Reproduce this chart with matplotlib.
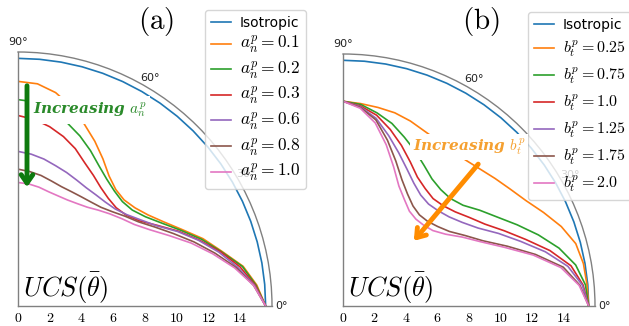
import matplotlib

matplotlib.use("Agg")

import matplotlib.pyplot as plt
import numpy as np

plt.rcParams["mathtext.fontset"] = "cm"

# angles (degrees) at which UCS was read
theta_deg = [0, 5, 10, 15, 20, 25, 30, 35, 40, 45, 50, 55, 60, 65, 70, 75, 80, 85, 90]
iso_r = 15.6

# panel (a): a_n^p
a_labels = [r"$a_n^p = 0.1$", r"$a_n^p = 0.2$", r"$a_n^p = 0.3$",
            r"$a_n^p = 0.6$", r"$a_n^p = 0.8$", r"$a_n^p = 1.0$"]
a_01 = [15.6, 15.1, 14.4, 13.3, 12.4, 11.4, 10.6, 10.0, 9.62, 9.45, 9.58, 10.0, 10.7, 11.45, 12.2, 13.0, 13.65, 14.05, 14.15]
a_02 = [15.6, 15.05, 14.35, 13.25, 12.3, 11.3, 10.45, 9.8, 9.4, 9.3, 9.45, 9.75, 10.2, 10.8, 11.4, 11.95, 12.55, 12.9, 13.0]
a_03 = [15.6, 15.0, 14.2, 13.2, 12.15, 11.15, 10.15, 9.35, 8.9, 8.75, 8.85, 9.1, 9.5, 9.95, 10.55, 11.05, 11.47, 11.8, 12.0]
a_06 = [15.6, 14.95, 14.05, 13.1, 12.1, 11.1, 10.1, 9.45, 8.95, 8.65, 8.55, 8.55, 8.6, 8.75, 8.95, 9.15, 9.4, 9.6, 9.74]
a_08 = [15.6, 14.9, 13.95, 12.85, 11.8, 10.8, 9.95, 9.25, 8.8, 8.4, 8.12, 8.0, 7.95, 7.95, 8.0, 8.15, 8.35, 8.5, 8.62]
a_10 = [15.6, 14.9, 13.85, 12.7, 11.6, 10.5, 9.6, 8.95, 8.55, 8.2, 7.88, 7.6, 7.45, 7.37, 7.38, 7.45, 7.6, 7.72, 7.78]
a_series = [a_01, a_02, a_03, a_06, a_08, a_10]

# panel (b): b_t^p
b_labels = [r"$b_t^p = 0.25$", r"$b_t^p = 0.75$", r"$b_t^p = 1.0$",
            r"$b_t^p = 1.25$", r"$b_t^p = 1.75$", r"$b_t^p = 2.0$"]
b_025 = [15.6, 15.55, 15.5, 15.3, 14.75, 14.05, 13.4, 12.95, 12.6, 12.3, 12.1, 12.05, 12.1, 12.25, 12.5, 12.7, 12.8, 12.9, 13.0]
b_075 = [15.6, 15.45, 15.0, 14.2, 13.2, 12.2, 11.3, 10.6, 9.95, 9.65, 9.65, 9.85, 10.3, 10.85, 11.4, 12.0, 12.45, 12.85, 13.0]
b_100 = [15.6, 15.3, 14.7, 13.6, 12.35, 11.3, 10.4, 9.8, 9.3, 9.0, 8.9, 9.1, 9.45, 10.1, 10.85, 11.6, 12.3, 12.75, 13.0]
b_125 = [15.6, 15.25, 14.5, 13.3, 12.0, 10.9, 9.9, 9.25, 8.8, 8.55, 8.45, 8.6, 9.0, 9.6, 10.35, 11.2, 12.1, 12.7, 13.0]
b_175 = [15.6, 15.1, 14.2, 12.65, 11.1, 9.8, 8.95, 8.25, 7.85, 7.6, 7.55, 7.75, 8.2, 8.85, 9.8, 10.9, 12.0, 12.65, 13.0]
b_200 = [15.6, 15.05, 14.05, 12.5, 10.9, 9.65, 8.75, 7.95, 7.45, 7.25, 7.2, 7.35, 7.8, 8.4, 9.4, 10.6, 11.8, 12.6, 13.0]
b_series = [b_025, b_075, b_100, b_125, b_175, b_200]

colors = ["#ff7f0e", "#2ca02c", "#d62728", "#9467bd", "#8c564b", "#e377c2"]
r_ticks = [0, 2, 4, 6, 8, 10, 12, 14]


def setup_polar(ax):
    ax.set_thetamin(0)
    ax.set_thetamax(90)
    ax.set_rlim(0, 16)
    ax.grid(False)
    ax.set_rgrids(r_ticks, labels=[f"${v}$" for v in r_ticks], fontsize=11)
    ax.set_thetagrids([0, 30, 60, 90], labels=["0°", "30°", "60°", "90°"],
                      fontsize=8, color="#222222")
    ax.tick_params(length=0)
    ax.tick_params(axis="x", pad=0)
    for sp in ax.spines.values():
        sp.set_color("#808080")
        sp.set_linewidth(1.0)


fig = plt.figure(figsize=(6.29, 3.26), dpi=100)
ax_a = fig.add_axes([18 / 629, 20 / 326, 254 / 629, 254 / 326], projection="polar")
ax_b = fig.add_axes([343 / 629, 20 / 326, 252 / 629, 252 / 326], projection="polar")

th = np.deg2rad(theta_deg)
for ax, series, labels in [(ax_a, a_series, a_labels), (ax_b, b_series, b_labels)]:
    setup_polar(ax)
    ax.plot(th, [iso_r] * len(th), color="#1f77b4", lw=1.2, label="Isotropic")
    for r, c, lab in zip(series, colors, labels):
        ax.plot(th, r, color=c, lw=1.2, label=lab)
    ax.text(0.02, 0.0, r"$UCS(\bar{\theta})$", transform=ax.transAxes,
            fontsize=19, ha="left", va="bottom")

# panel titles
fig.text(156 / 629, 1 - 21 / 326, r"$(\mathrm{a})$", fontsize=21, ha="center", va="center")
fig.text(481 / 629, 1 - 21 / 326, r"$(\mathrm{b})$", fontsize=21, ha="center", va="center")

# legends
leg_kw = dict(bbox_transform=fig.transFigure, fontsize=10, borderaxespad=0,
              handlelength=1.5, handletextpad=0.6)
for ax, anchor, msize, spacing in [(ax_a, (205 / 629, 1 - 10 / 326), 12.5, 0.3),
                                   (ax_b, (528 / 629, 1 - 12 / 326), 11.5, 0.5)]:
    leg = ax.legend(loc="upper left", bbox_to_anchor=anchor, labelspacing=spacing, **leg_kw)
    for t in leg.get_texts()[1:]:
        t.set_fontsize(msize)

# annotations
fig.text(33 / 629, 1 - 110 / 326, r"Increasing $a_n^p$", color="#2a8a2a",
         fontsize=11, fontweight="bold", fontstyle="italic", family="DejaVu Serif",
         ha="left", va="center", zorder=5,
         bbox=dict(facecolor="white", edgecolor="none", pad=3))
fig.add_artist(matplotlib.patches.FancyArrowPatch(
    (27 / 629, 1 - 83 / 326), (27 / 629, 1 - 190 / 326), transform=fig.transFigure,
    arrowstyle="->,head_length=0.5,head_width=0.35", color="#0e7a0e", lw=3.5,
    zorder=6, mutation_scale=12))

fig.text(413 / 629, 1 - 147 / 326, r"Increasing $b_t^p$", color="#f5a030",
         fontsize=11, fontweight="bold", fontstyle="italic", family="DejaVu Serif",
         ha="left", va="center", zorder=5,
         bbox=dict(facecolor="white", edgecolor="none", pad=2))
fig.add_artist(matplotlib.patches.FancyArrowPatch(
    (480 / 629, 1 - 162 / 326), (412 / 629, 1 - 243 / 326), transform=fig.transFigure,
    arrowstyle="->,head_length=0.5,head_width=0.35", color="#ff8c00", lw=3.5,
    zorder=6, mutation_scale=12))

fig.savefig("out.png", dpi=100)
plt.close(fig)
